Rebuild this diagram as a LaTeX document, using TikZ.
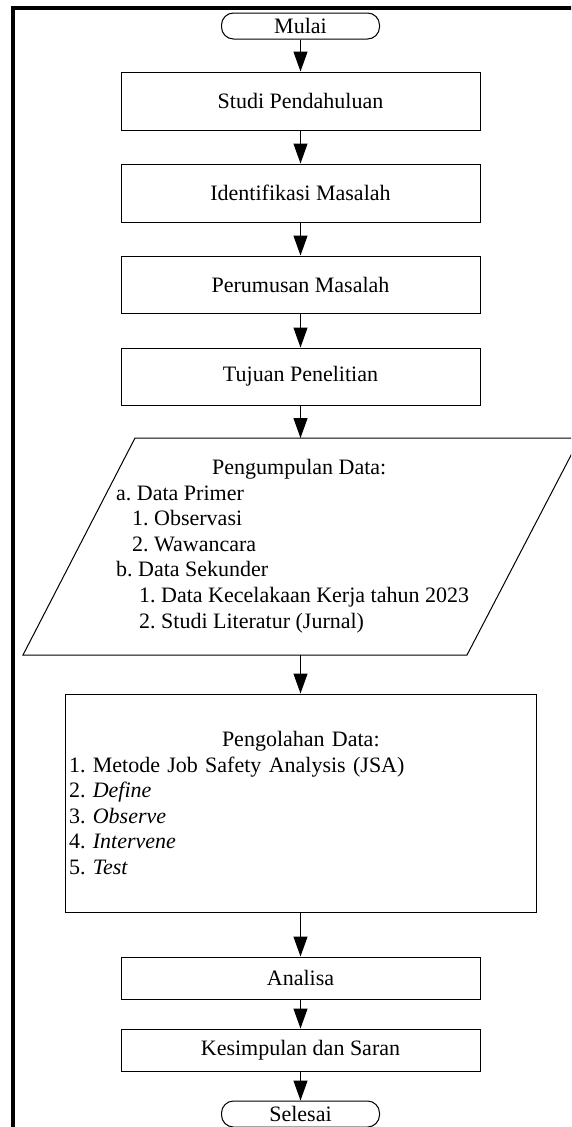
\documentclass[tikz,border=0pt]{standalone}
\usepackage{fontspec}
\setmainfont{Liberation Serif}
\usetikzlibrary{arrows.meta}
\frenchspacing

\begin{document}
\begin{tikzpicture}[x=1pt,y=-1pt,
  every node/.style={font=\fontsize{22}{25.6}\selectfont},
  box/.style={rectangle,draw=black,line width=1pt,minimum width=359pt,inner sep=0pt},
  terminal/.style={rectangle,rounded corners=12pt,draw=black,line width=1pt,minimum width=158pt,minimum height=26pt,inner sep=0pt},
  arrow/.style={-{Triangle[length=20pt,width=14pt]},line width=1.2pt}]

%FRAME
\useasboundingbox (0,0) rectangle (571,1127);
\clip (0,0) rectangle (571,1127);
\draw[line width=4pt] (13,1135) -- (13,7.5) -- (580,7.5);
%FRAME

\node[terminal](v1) at (300.5,26) {Mulai};
\node[box,minimum height=58pt](v2) at (300.5,101) {Studi Pendahuluan};
\node[box,minimum height=58pt](v3) at (300.5,193) {Identifikasi Masalah};
\node[box,minimum height=57pt](v4) at (300.5,284.5) {Perumusan Masalah};
\node[box,minimum height=57pt](v5) at (300.5,376.5) {Tujuan Penelitian};

%DATA
\coordinate (p1) at (300.5,438);
\coordinate (p2) at (300.5,655);
\draw[line width=1pt] (23,655) -- (135,438) -- (580,438) -- (467,655) -- cycle;
\node[align=left,anchor=north west,inner sep=0pt](v6) at (116,459) {\hspace*{96pt}Pengumpulan Data:\\
a. Data Primer\\
\hspace*{16pt}1. Observasi\\
\hspace*{16pt}2. Wawancara\\
b. Data Sekunder\\
\hspace*{23pt}1. Data Kecelakaan Kerja tahun 2023\\
\hspace*{23pt}2. Studi Literatur (Jurnal)};
%DATA

\node[rectangle,draw=black,line width=1pt,minimum height=218pt,text width=463pt,inner sep=4pt,align=left](v7) at (300.5,803) {\hspace*{153pt}Pengolahan Data:\\
1. Metode Job Safety Analysis (JSA)\\
2. \textit{Define}\\
3. \textit{Observe}\\
4. \textit{Intervene}\\
5. \textit{Test}};

\node[box,minimum height=42pt](v8) at (300.5,978) {Analisa};
\node[box,minimum height=42pt](v9) at (300.5,1050) {Kesimpulan dan Saran};
\node[terminal](v10) at (300.5,1114) {Selesai};

\draw[arrow] (v1) -- (v2);
\draw[arrow] (v2) -- (v3);
\draw[arrow] (v3) -- (v4);
\draw[arrow] (v4) -- (v5);
\draw[arrow] (v5) -- (p1);

\draw[arrow] (p2) -- (v7);
\draw[arrow] (v7) -- (v8);
\draw[arrow] (v8) -- (v9);
\draw[arrow] (v9) -- (v10);

\end{tikzpicture}
\end{document}
